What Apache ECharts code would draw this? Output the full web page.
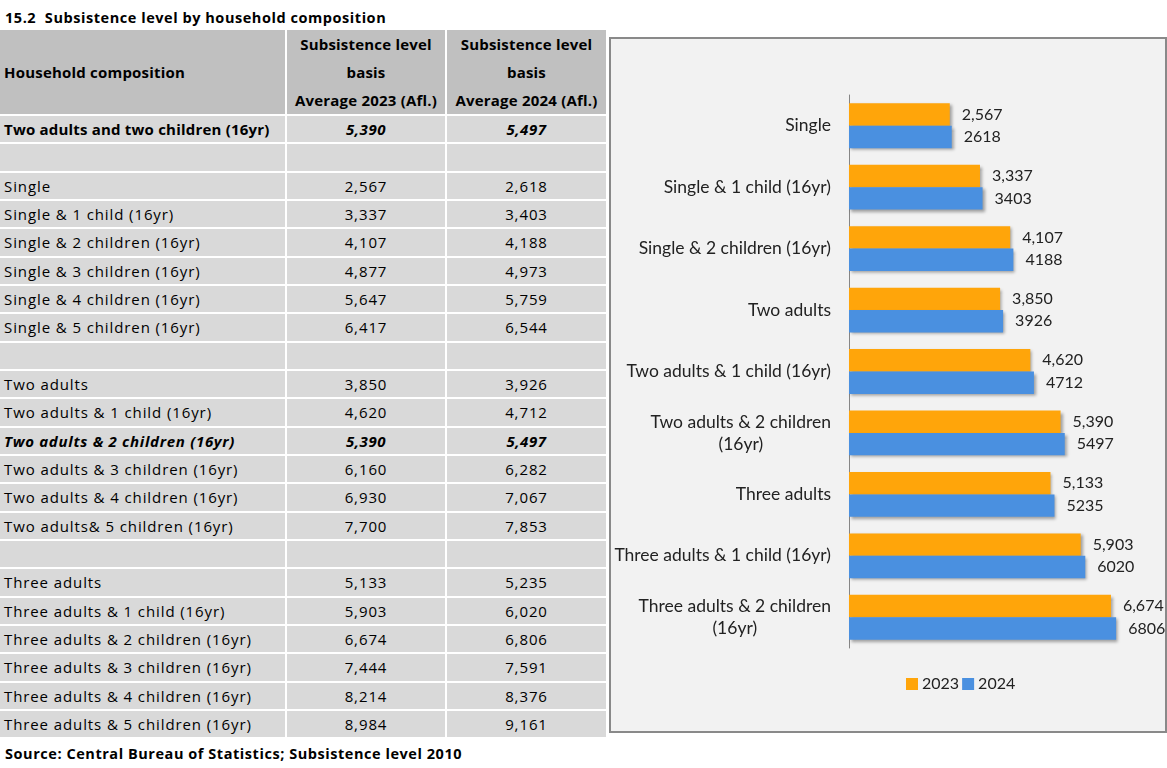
<!DOCTYPE html>
<html lang="en">

<head>
    <meta charset="UTF-8">
    <title>Subsistence level by household composition</title>
    <script src="https://cdn.jsdelivr.net/npm/echarts@6/dist/echarts.min.js"></script>
    <style>
        body {
            margin: 0;
            width: 1167px;
            height: 768px;
            position: relative;
            overflow: hidden;
            background: #fff;
            font-family: "Open Sans", Lato, sans-serif;
            color: #000;
        }

        #title {
            position: absolute;
            left: 5px;
            top: 8px;
            font-size: 14.5px;
            font-weight: bold;
            letter-spacing: 0.55px;
        }

        #source {
            position: absolute;
            left: 5px;
            top: 744px;
            font-size: 14.5px;
            font-weight: bold;
            letter-spacing: 0.55px;
        }

        #tbl {
            position: absolute;
            left: -2px;
            top: 28px;
            border-collapse: separate;
            border-spacing: 2px;
            table-layout: fixed;
            font-size: 15px;
            letter-spacing: 0.9px;
        }

        #tbl td {
            background: #d9d9d9;
            height: 26.33px;
            padding: 0 4px;
            white-space: nowrap;
            box-sizing: border-box;
        }

        #tbl th {
            background: #c0c0c0;
            height: 83px;
            font-weight: bold;
            line-height: 28px;
            padding: 0 4px;
            box-sizing: border-box;
            letter-spacing: 0.2px;
            white-space: nowrap;
        }

        #tbl td.num {
            text-align: center;
        }

        #panel {
            position: absolute;
            left: 609px;
            top: 37px;
            width: 558px;
            height: 696px;
            box-sizing: border-box;
            border: 2px solid #898989;
            background: #f2f2f2;
        }

        #root {
            width: 100%;
            height: 100%;
        }
    </style>
</head>

<body>
    <div id="title">15.2&nbsp;&nbsp;Subsistence level by household composition</div>
    <table id="tbl">
        <colgroup>
            <col style="width:285px">
            <col style="width:158px">
            <col style="width:159px">
        </colgroup>
        <thead>
            <tr>
                <th style="text-align:left">Household composition</th>
                <th>Subsistence level<br>basis<br>Average 2023 (Afl.)</th>
                <th>Subsistence level<br>basis<br>Average 2024 (Afl.)</th>
            </tr>
        </thead>
        <tbody id="tbody"></tbody>
    </table>
    <div id="source">Source: Central Bureau of Statistics; Subsistence level 2010</div>

    <div id="panel">
        <div id="root"></div>
    </div>

    <script>
        // table rows (empty label = spacer row)
        var rowLabels = [
            'Two adults and two children (16yr)', '',
            'Single', 'Single & 1 child (16yr)', 'Single & 2 children (16yr)',
            'Single & 3 children (16yr)', 'Single & 4 children (16yr)', 'Single & 5 children (16yr)', '',
            'Two adults', 'Two adults & 1 child (16yr)', 'Two adults & 2 children (16yr)',
            'Two adults & 3 children (16yr)', 'Two adults & 4 children (16yr)', 'Two adults& 5 children (16yr)', '',
            'Three adults', 'Three adults & 1 child (16yr)', 'Three adults & 2 children (16yr)',
            'Three adults & 3 children (16yr)', 'Three adults & 4 children (16yr)', 'Three adults & 5 children (16yr)'
        ];
        var row2023 = [5390, null, 2567, 3337, 4107, 4877, 5647, 6417, null,
            3850, 4620, 5390, 6160, 6930, 7700, null,
            5133, 5903, 6674, 7444, 8214, 8984];
        var row2024 = [5497, null, 2618, 3403, 4188, 4973, 5759, 6544, null,
            3926, 4712, 5497, 6282, 7067, 7853, null,
            5235, 6020, 6806, 7591, 8376, 9161];
        // row styles: 'b' = bold label + bold italic numbers, 'bi' = all bold italic
        var rowStyle = { 0: 'b', 11: 'bi' };

        // chart data
        var categories = [
            'Single', 'Single & 1 child (16yr)', 'Single & 2 children (16yr)',
            'Two adults', 'Two adults & 1 child (16yr)', 'Two adults & 2 children\n(16yr)',
            'Three adults', 'Three adults & 1 child (16yr)', 'Three adults & 2 children\n(16yr)'
        ];
        var values2023 = [2567, 3337, 4107, 3850, 4620, 5390, 5133, 5903, 6674];
        var values2024 = [2618, 3403, 4188, 3926, 4712, 5497, 5235, 6020, 6806];

        function fmt(v) {
            return v == null ? '' : v.toLocaleString('en-US');
        }

        var html = '';
        rowLabels.forEach(function (lab, i) {
            var st = rowStyle[i];
            var labStyle = st === 'b' ? 'font-weight:bold;letter-spacing:0.2px' : (st === 'bi' ? 'font-weight:bold;font-style:italic;letter-spacing:0.7px' : '');
            var numStyle = st ? 'font-weight:bold;font-style:italic;letter-spacing:0.5px' : '';
            html += '<tr><td style="' + labStyle + '">' + lab.replace(/&/g, '&amp;') + '</td>' +
                '<td class="num" style="' + numStyle + '">' + fmt(row2023[i]) + '</td>' +
                '<td class="num" style="' + numStyle + '">' + fmt(row2024[i]) + '</td></tr>';
        });
        document.getElementById('tbody').innerHTML = html;

        var mychart = echarts.init(document.getElementById('root'));

        var barShadow = {
            shadowColor: 'rgba(0,0,0,0.35)',
            shadowBlur: 3,
            shadowOffsetX: 2,
            shadowOffsetY: 2
        };

        mychart.setOption({
            animation: false,
            textStyle: { fontFamily: 'Lato, sans-serif' },
            legend: {
                left: 290,
                top: 632,
                itemWidth: 12,
                itemHeight: 12,
                itemGap: 3,
                icon: 'rect',
                textStyle: { fontSize: 16, color: '#222', padding: [0, 0, 0, -1] },
                data: ['2023', '2024']
            },
            grid: {
                left: 238,
                top: 56,
                width: 314,
                height: 553,
                containLabel: false
            },
            xAxis: {
                type: 'value',
                min: 0,
                max: 8000,
                show: false
            },
            yAxis: {
                type: 'category',
                inverse: true,
                data: categories,
                axisLine: { lineStyle: { color: '#868686' } },
                axisTick: { length: 5, lineStyle: { color: '#868686' } },
                axisLabel: {
                    margin: 18,
                    fontSize: 17.5,
                    color: '#222',
                    lineHeight: 22,
                    formatter: function (v) {
                        return v.split('\n').map(function (s) { return '{c|' + s + '}'; }).join('\n');
                    },
                    rich: {
                        c: { align: 'center', fontSize: 17.5, color: '#222', lineHeight: 22 }
                    }
                }
            },
            series: [{
                name: '2023',
                type: 'bar',
                data: values2023,
                barGap: '0%',
                barCategoryGap: '27%',
                itemStyle: Object.assign({ color: '#ffa50a' }, barShadow),
                label: {
                    show: true,
                    position: 'right',
                    distance: 12,
                    fontSize: 16,
                    color: '#222',
                    formatter: function (p) { return fmt(p.value); }
                }
            }, {
                name: '2024',
                type: 'bar',
                data: values2024,
                itemStyle: Object.assign({ color: '#4a90e0' }, barShadow),
                label: {
                    show: true,
                    position: 'right',
                    distance: 12,
                    fontSize: 16,
                    color: '#222'
                }
            }]
        });
    </script>
</body>

</html>
